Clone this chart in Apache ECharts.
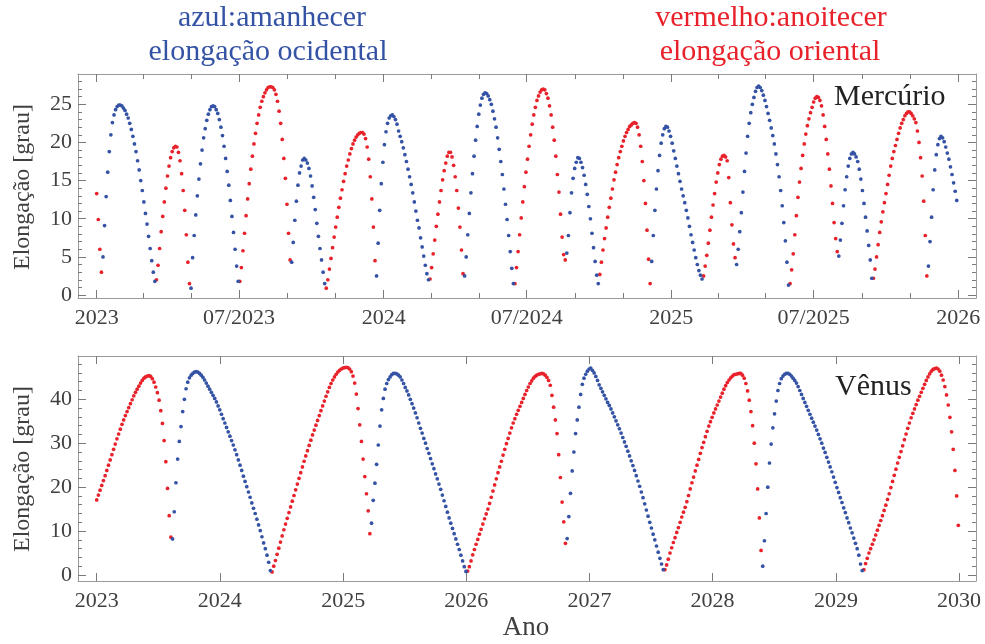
<!DOCTYPE html>
<html><head><meta charset="utf-8">
<script src="https://cdn.jsdelivr.net/npm/echarts@6/dist/echarts.min.js"></script>
<style>html,body{margin:0;padding:0;background:#fff}#c{width:985px;height:644px}</style>
</head><body><div id="c"></div>
<script>
// ---------------- data ----------------
const mercuryStart = '2023-01-01';
const mercuryStepDays = 2;
const mercuryElongation = [13.3,9.9,6.0,3.0,
5.0,9.1,12.9,16.1,18.8,21.0,22.6,23.6,24.3,24.7,24.9,
24.9,24.8,24.5,24.2,23.7,23.2,22.5,21.7,20.8,19.8,18.8,17.6,16.4,15.0,13.7,12.2,10.7,9.3,7.7,6.1,4.5,3.0,1.8,
2.0,3.9,6.1,8.3,10.3,12.2,14.0,15.6,16.9,18.0,18.8,19.3,19.5,
19.4,18.7,17.6,15.9,13.7,11.1,7.9,4.3,1.5,
0.9,4.9,7.8,10.5,13.0,15.2,17.2,19.0,20.6,21.8,22.9,23.7,24.3,24.7,24.8,
24.7,24.3,23.8,23.0,22.0,20.9,19.5,17.9,16.2,14.4,12.4,10.3,8.2,6.0,3.8,1.8,
1.8,3.6,5.8,8.1,10.4,12.6,14.6,16.5,18.2,19.8,21.2,22.5,23.6,24.6,25.4,26.0,26.5,26.9,27.2,27.3,
27.3,27.2,26.9,26.3,25.4,24.1,22.5,20.4,17.9,15.3,11.9,8.1,4.6,
4.3,6.9,9.8,12.3,14.4,16.0,16.9,17.7,17.9,
17.7,17.3,16.6,15.6,14.3,12.8,11.2,9.4,7.7,6.1,4.6,3.0,1.5,
0.9,2.0,3.4,4.8,6.2,7.6,8.9,10.2,11.5,12.7,13.8,14.9,15.9,16.9,17.7,18.5,19.2,19.8,20.3,20.7,21.0,21.2,21.3,
21.3,21.1,20.5,19.4,17.8,15.5,12.6,8.9,4.5,
2.5,6.8,11.1,14.6,17.4,19.7,21.4,22.5,23.2,23.5,23.6,
23.4,23.0,22.4,21.5,20.8,20.1,19.3,18.4,17.5,16.5,15.5,14.5,13.4,12.2,11.0,9.8,8.8,7.5,6.3,5.1,3.9,2.8,2.0,
2.1,3.6,5.4,7.2,9.0,10.6,12.2,13.7,15.1,16.3,17.3,18.2,18.7,
18.7,18.1,17.0,15.5,13.7,11.4,8.9,5.9,2.8,
2.5,5.0,7.9,10.7,13.4,15.9,18.2,20.3,22.1,23.7,24.9,25.8,26.3,26.5,
26.4,26.1,25.6,25.0,24.1,23.1,22.0,20.6,19.1,17.5,15.8,13.9,11.9,9.9,7.8,5.7,3.5,1.5,
1.5,3.6,5.7,7.9,10.1,12.2,14.2,16.1,17.8,19.5,21.0,22.4,23.6,24.6,25.5,26.1,26.6,26.9,27.0,
26.9,26.4,25.8,24.8,23.6,22.0,20.3,18.2,15.8,13.5,10.6,7.6,5.3,4.6,
5.5,7.8,10.8,13.4,15.3,16.6,17.4,18.0,
17.9,17.4,16.7,15.7,14.5,13.2,11.6,10.0,8.1,6.2,4.4,2.6,1.5,
2.7,4.3,5.9,7.4,8.8,10.2,11.5,12.7,13.9,15.1,16.1,17.1,18.0,18.8,19.5,20.2,20.8,21.3,21.7,22.1,22.3,22.5,22.6,
22.5,22.0,21.0,19.5,17.5,15.0,12.0,8.5,4.7,1.5,
4.4,7.8,11.1,13.9,16.3,18.3,19.9,21.0,21.8,22.1,
22.0,21.5,20.8,19.9,18.9,17.9,16.9,15.9,14.9,13.9,13.0,12.1,11.1,10.1,9.0,7.9,6.9,5.9,4.9,4.0,3.2,2.6,2.1,
2.5,3.8,5.2,6.8,8.5,10.2,11.8,13.3,14.8,16.0,17.1,17.8,18.2,
18.3,18.1,17.6,15.4,12.1,9.2,6.7,4.9,
4.0,6.0,8.3,10.8,13.5,16.2,18.6,20.8,22.5,23.9,25.0,25.9,26.7,27.2,
27.4,27.2,26.8,26.2,25.5,24.7,23.8,22.9,21.9,20.9,19.8,18.5,17.1,15.5,13.7,11.7,9.5,7.1,4.3,1.3,
1.5,3.3,5.4,7.9,10.4,12.8,14.8,16.6,18.3,19.8,21.1,22.2,23.1,23.9,24.6,25.3,25.8,
26.0,25.9,25.5,24.8,23.6,22.1,20.4,18.5,16.5,14.3,12.0,9.5,7.4,5.7,
5.1,7.2,9.4,11.7,13.8,15.5,16.9,17.9,18.5,
18.7,18.5,18.1,17.5,16.5,15.2,13.7,12.0,10.2,8.4,6.5,4.6,2.2,
2.2,3.4,5.0,6.6,8.2,9.6,10.9,12.1,13.3,14.5,15.7,16.9,17.9,18.8,19.6,20.4,21.2,21.9,22.5,23.0,23.5,23.8,24.0,
24.0,23.8,23.5,23.1,22.6,21.5,20.0,18.0,15.6,12.3,7.8,2.5,
3.8,7.0,10.2,13.8,16.4,18.4,19.7,20.5,20.8,
20.6,20.1,19.4,18.6,17.8,16.8,15.8,14.7,13.6,12.4];
// side of the Sun: 'E' = evening (red), 'W' = morning (blue); flips at each conjunction
const mercurySideAtStart = 'E';
const mercuryConjunctions = ['2023-01-08','2023-03-17','2023-04-30','2023-07-01','2023-09-05','2023-10-19','2023-12-22',
'2024-02-28','2024-04-12','2024-06-15','2024-08-20','2024-10-01','2024-12-06',
'2025-02-10','2025-03-24','2025-05-31','2025-08-01','2025-09-14','2025-11-23'];

const venusStart = '2023-01-01';
const venusStepDays = 5;
const venusElongation = [17.1,18.2,19.3,20.4,21.5,22.6,23.8,25.0,26.2,27.4,28.6,29.8,31.0,32.1,33.2,34.3,35.3,36.3,37.2,38.1,39.0,39.9,40.8,41.6,42.3,43.0,43.7,44.3,44.8,45.1,45.3,45.4,45.2,44.7,43.9,42.8,41.5,39.8,37.4,34.5,30.6,25.8,19.7,13.5,8.6,
8.2,14.4,21.0,26.4,30.4,33.8,37.2,40.0,42.4,43.9,44.9,45.5,45.9,46.2,46.3,46.2,45.9,45.5,45.0,44.4,43.7,43.0,42.3,41.6,40.9,40.2,39.4,38.5,37.6,36.6,35.6,34.6,33.6,32.6,31.6,30.6,29.6,28.5,27.4,26.2,25.0,23.8,22.5,21.3,20.1,18.9,17.7,16.4,15.2,14.0,12.7,11.4,10.1,8.7,7.3,6.0,4.5,2.9,1.0,
0.7,2.0,3.3,4.7,6.1,7.5,8.9,10.3,11.6,12.9,14.2,15.5,16.8,18.1,19.4,20.7,22.0,23.3,24.6,25.9,27.1,28.3,29.5,30.7,31.9,33.0,34.1,35.2,36.3,37.4,38.5,39.6,40.7,41.7,42.7,43.6,44.4,45.1,45.7,46.2,46.6,46.9,47.1,47.2,47.3,47.2,46.9,46.3,45.3,43.7,41.2,37.9,34.2,30.4,26.4,22.4,18.5,14.6,9.4,
11.8,17.0,20.9,25.2,29.6,33.9,37.6,40.2,42.3,43.6,44.5,45.1,45.6,45.9,45.9,45.8,45.5,45.1,44.4,43.6,42.7,41.9,41.0,40.0,39.0,38.0,36.9,35.8,34.6,33.4,32.3,31.1,30.0,28.8,27.7,26.5,25.3,24.2,23.0,21.9,20.7,19.5,18.2,16.9,15.6,14.3,13.0,11.8,10.6,9.4,8.2,7.0,5.8,4.5,3.2,1.9,0.8,
0.9,1.9,3.2,4.6,5.8,7.0,8.1,9.3,10.4,11.6,12.8,13.9,15.0,16.3,17.7,19.1,20.5,21.9,23.3,24.6,25.9,27.3,28.6,29.9,31.1,32.3,33.5,34.6,35.6,36.6,37.5,38.4,39.3,40.2,41.1,42.0,42.8,43.6,44.2,44.8,45.2,45.5,45.7,45.8,45.9,45.8,45.5,45.0,44.3,43.2,40.9,38.2,35.3,32.2,27.4,22.2,16.6,12.1,7.2,
8.3,13.3,18.6,23.7,28.0,32.2,35.3,38.2,41.1,43.4,44.8,45.7,46.4,46.9,47.1,46.6,46.0,45.2,44.3,43.3,42.5,41.7,40.9,40.1,39.3,38.6,37.8,36.9,36.0,35.1,34.2,33.3,32.3,31.3,30.3,29.3,28.2,27.1,26.0,24.9,23.8,22.6,21.4,20.2,18.9,17.6,16.2,14.8,13.4,12.0,10.7,9.3,8.0,6.6,5.2,3.8,2.5,1.2,
1.2,2.3,3.6,5.0,6.2,7.4,8.5,9.7,10.8,12.0,13.2,14.3,15.4,16.7,18.1,19.6,21.0,22.3,23.7,25.0,26.3,27.7,29.0,30.2,31.5,32.7,33.9,34.9,35.9,36.9,37.8,38.7,39.6,40.5,41.4,42.3,43.1,43.8,44.4,44.9,45.3,45.6,45.7,45.8,45.9,45.9,45.5,44.8,43.6,41.9,39.8,37.2,34.0,30.0,25.3,19.6,13.0,5.6,
2.0,7.8,14.0,20.0,25.5,29.8,33.5,36.7,39.6,42.0,43.6,44.7,45.3,45.7,45.9,45.9,45.7,45.3,44.8,44.3,43.7,42.9,42.0,41.1,40.2,39.3,38.4,37.5,36.6,35.7,34.8,33.9,33.0,32.0,31.0,30.0,28.9,27.9,26.8,25.7,24.6,23.5,22.3,21.1,19.9,18.8,17.6,16.5,15.3,14.2,13.0,11.9,10.7,9.6,8.4,7.2,6.0,4.5,2.5,1.0,
1.2,2.6,3.8,5.0,6.0,7.0,8.0,9.1,10.2,11.3,12.4,13.5,14.7,15.9,17.2,18.5,19.9,21.3,22.7,24.1,25.5,26.8,28.1,29.4,30.8,32.1,33.4,34.6,35.8,36.8,37.8,38.8,39.8,40.7,41.6,42.5,43.4,44.3,45.1,45.8,46.4,46.8,47.0,47.1,46.9,46.4,45.5,44.4,42.9,41.0,38.7,35.9,32.6,28.6,23.8,18.0,11.3];
const venusSideAtStart = 'E';
const venusConjunctions = ['2023-08-11','2024-06-02','2025-03-23','2026-01-03','2026-10-24','2027-08-10','2028-05-27','2029-03-22'];

const mercuryTickDates = ['2023-01-01','2023-07-01','2024-01-01','2024-07-01','2025-01-01','2025-07-01','2026-01-01'];
const mercuryTickLabels = ['2023','07/2023','2024','07/2024','2025','07/2025','2026'];
const mercuryMinorTickDates = ['2023-03-01','2023-05-01','2023-09-01','2023-11-01','2024-03-01','2024-05-01','2024-09-01','2024-11-01','2025-03-01','2025-05-01','2025-09-01','2025-11-01'];
const venusTickDates = ['2023-01-01','2024-01-01','2025-01-01','2026-01-01','2027-01-01','2028-01-01','2029-01-01','2030-01-01'];
const venusTickLabels = ['2023','2024','2025','2026','2027','2028','2029','2030'];
const mercuryYTicks = [0,5,10,15,20,25];
const venusYTicks = [0,10,20,30,40];

// ---------------- build ----------------
const DAY = 86400000;
const ms = s => { const p = s.split('-').map(Number); return Date.UTC(p[0], p[1]-1, p[2]); };
function splitSides(start, step, values, conj, startSide) {
  const t0 = ms(start), cj = conj.map(ms);
  const east = [], west = [];
  values.forEach((v, i) => {
    const x = t0 + i * step * DAY;
    const n = cj.filter(c => c <= x).length;
    let side = startSide;
    if (n % 2 === 1) side = (side === 'E') ? 'W' : 'E';
    (side === 'E' ? east : west).push([x, v]);
  });
  return { east, west };
}
const merc = splitSides(mercuryStart, mercuryStepDays, mercuryElongation, mercuryConjunctions, mercurySideAtStart);
const ven = splitSides(venusStart, venusStepDays, venusElongation, venusConjunctions, venusSideAtStart);

const RED = '#e8222b', BLUE = '#3553a5', FRAME = '#9a9a9a', TICK = '#7a7a7a', LABEL = '#404040';
const FONT = 'Liberation Serif';
const T0 = ms('2023-01-01');
const mXmin = T0 - 23.8 * DAY, mXmax = T0 + 1118.5 * DAY;
const vXmin = T0 - 55.45 * DAY, vXmax = T0 + 2607.4 * DAY;

function axisCommon(o) {
  return Object.assign({
    type: 'value', splitLine: { show: false }, minorTick: { show: false }, minorSplitLine: { show: false },
    axisPointer: { show: false }, silent: true
  }, o);
}
function xAxes(grid, min, max, major, minor, labels) {
  const majorVals = major.map(ms);
  const lab = v => { const i = majorVals.findIndex(m => Math.abs(m - v) < DAY); return i >= 0 ? labels[i] : ''; };
  const list = [];
  ['bottom', 'top'].forEach(pos => {
    list.push(axisCommon({
      gridIndex: grid, position: pos, min, max,
      axisLine: { show: true, onZero: false, lineStyle: { color: FRAME, width: 1 } },
      axisTick: { show: true, inside: true, length: 8, customValues: majorVals, lineStyle: { color: TICK, width: 1 } },
      axisLabel: pos === 'bottom'
        ? { show: true, customValues: majorVals, formatter: lab, margin: 9, color: LABEL, fontFamily: FONT, fontSize: 22, hideOverlap: false }
        : { show: false }
    }));
    if (minor && minor.length) {
      list.push(axisCommon({
        gridIndex: grid, position: pos, min, max,
        axisLine: { show: false, onZero: false },
        axisTick: { show: true, inside: true, length: 5, customValues: minor.map(ms), lineStyle: { color: TICK, width: 1 } },
        axisLabel: { show: false }
      }));
    }
  });
  return list;
}
function yAxes(grid, min, max, major, minor) {
  const list = [];
  ['left', 'right'].forEach(pos => {
    list.push(axisCommon({
      gridIndex: grid, position: pos, min, max,
      axisLine: { show: true, onZero: false, lineStyle: { color: FRAME, width: 1 } },
      axisTick: { show: true, inside: true, length: 8, customValues: major, lineStyle: { color: TICK, width: 1 } },
      axisLabel: pos === 'left'
        ? { show: true, customValues: major, margin: 6, color: LABEL, fontFamily: FONT, fontSize: 22 }
        : { show: false }
    }));
    list.push(axisCommon({
      gridIndex: grid, position: pos, min, max,
      axisLine: { show: false, onZero: false },
      axisTick: { show: true, inside: true, length: 4, customValues: minor, lineStyle: { color: TICK, width: 1 } },
      axisLabel: { show: false }
    }));
  });
  return list;
}
const mMinorY = []; for (let v = 1; v <= 28; v++) if (v % 5) mMinorY.push(v);
const vMinorY = []; for (let v = 2; v <= 48; v += 2) if (v % 10) vMinorY.push(v);

const xA = xAxes(0, mXmin, mXmax, mercuryTickDates, mercuryMinorTickDates, mercuryTickLabels)
  .concat(xAxes(1, vXmin, vXmax, venusTickDates, [], venusTickLabels));
const vXIndex = xA.findIndex(a => a.gridIndex === 1);
const yA = yAxes(0, -0.39, 28.97, mercuryYTicks, mMinorY).concat(yAxes(1, -1.37, 49.86, venusYTicks, vMinorY));
const vYIndex = 4;

function dots(name, data, color, xi, yi) {
  return { type: 'scatter', name, data, xAxisIndex: xi, yAxisIndex: yi, symbol: 'circle', symbolSize: 3.7,
    itemStyle: { color, opacity: 1 }, silent: true, animation: false, large: false };
}

const chart = echarts.init(document.getElementById('c'), null, { renderer: 'canvas' });
const txt = (text, x, y, size, color, align, rot) => ({
  type: 'text', x, y, rotation: rot || 0, silent: true,
  style: { text, fill: color, font: size + 'px "' + FONT + '"', textAlign: align || 'center', textVerticalAlign: 'middle' }
});
chart.setOption({
  animation: false,
  backgroundColor: '#ffffff',
  grid: [
    { left: 78, top: 74, width: 898, height: 224, containLabel: false },
    { left: 78, top: 356, width: 898, height: 225, containLabel: false }
  ],
  xAxis: xA,
  yAxis: yA,
  series: [
    dots('Mercúrio oriental', merc.east, RED, 0, 0),
    dots('Mercúrio ocidental', merc.west, BLUE, 0, 0),
    dots('Vênus oriental', ven.east, RED, vXIndex, vYIndex),
    dots('Vênus ocidental', ven.west, BLUE, vXIndex, vYIndex)
  ],
  graphic: [
    txt('azul:amanhecer', 272, 18, 30, BLUE),
    txt('elongação ocidental', 268, 52, 30, BLUE),
    txt('vermelho:anoitecer', 771, 18, 30, RED),
    txt('elongação oriental', 770, 52, 30, RED),
    txt('Mercúrio', 834, 97, 30, '#222222', 'left'),
    txt('Vênus', 835, 387, 30, '#222222', 'left'),
    txt('Elongação [grau]', 23, 187, 24, LABEL, 'center', Math.PI / 2),
    txt('Elongação [grau]', 23, 469, 24, LABEL, 'center', Math.PI / 2),
    txt('Ano', 526, 628, 27, LABEL, 'center')
  ]
});
</script>
</body></html>
